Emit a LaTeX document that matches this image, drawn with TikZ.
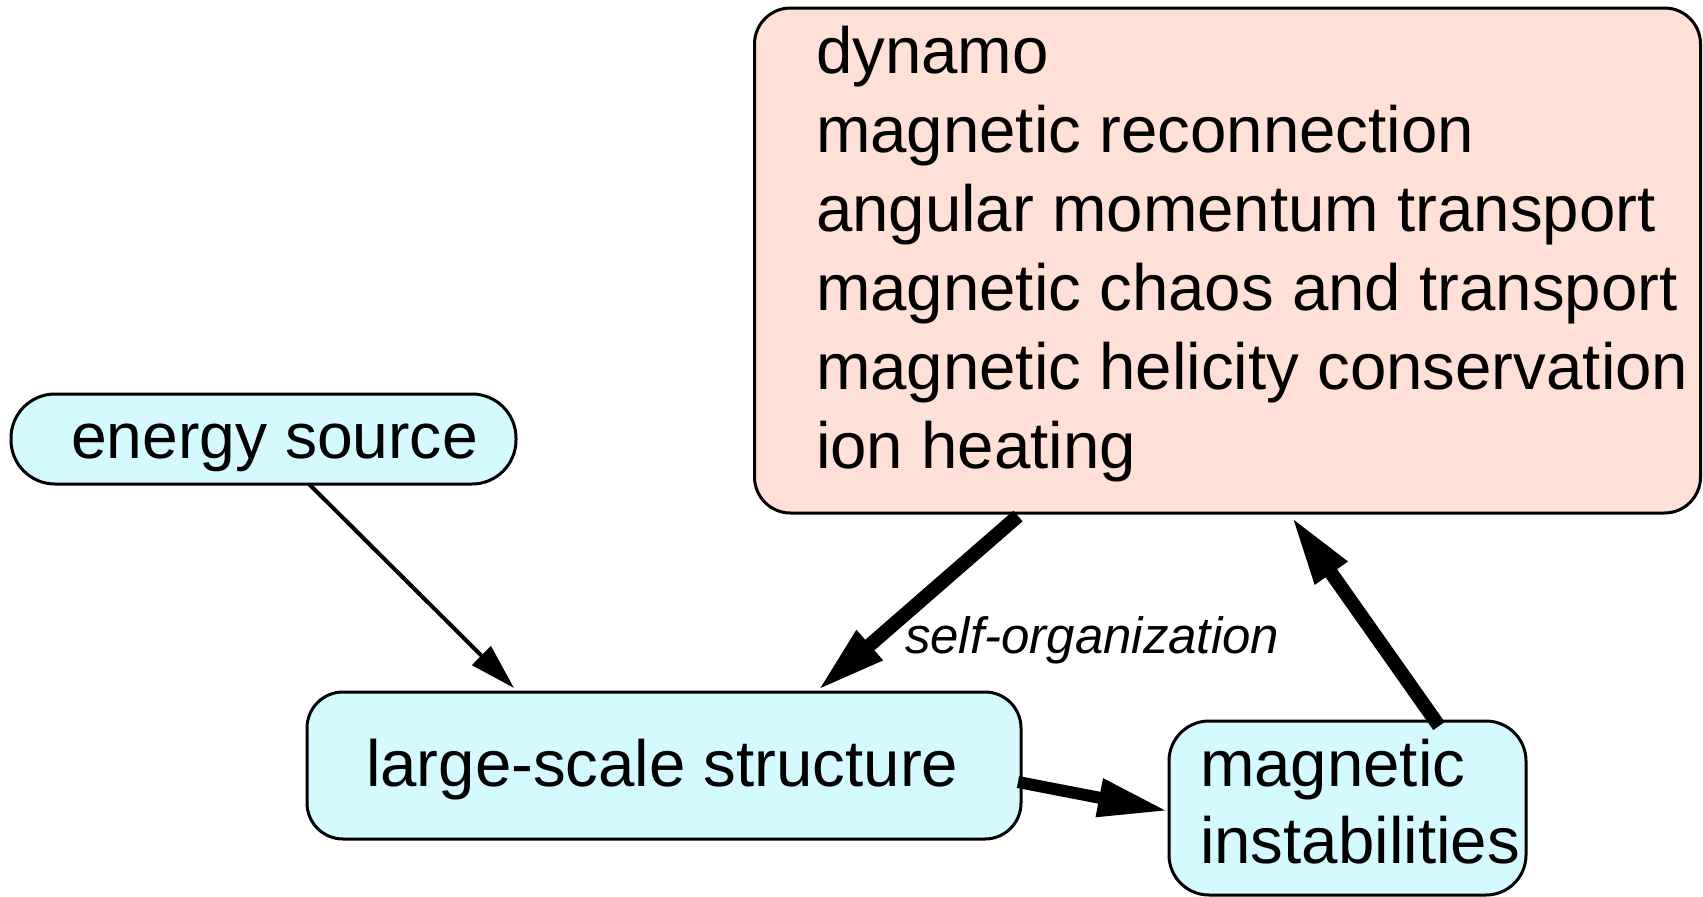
\documentclass[tikz,border=0pt]{standalone}
\usepackage{fontspec}
\setmainfont{Liberation Sans}
\usetikzlibrary{arrows.meta,calc}
\definecolor{boxcyan}{RGB}{212,250,255}
\definecolor{boxpeach}{RGB}{255,224,214}
\tikzset{
  box/.style={draw=black, line width=3pt, inner sep=0pt, outer sep=0pt},
  txt/.style={inner sep=0pt, outer sep=0pt, anchor=base west, font=\fontsize{65.4}{79}\selectfont},
  thinarrow/.style={line width=4pt, -{Triangle[length=46pt,width=26pt]}},
  thickarrow/.style={line width=14pt, line cap=butt, -{Triangle[length=70pt,width=36pt]}}
}
\begin{document}
\begin{tikzpicture}[x=1pt,y=-1pt]
\useasboundingbox (0,0) rectangle (1703,897);
% boxes
\node[box, fill=boxcyan, rounded corners=44pt, minimum width=505pt, minimum height=90pt] (es) at (263.5,439) {};
\node[box, fill=boxcyan, rounded corners=36pt, minimum width=714pt, minimum height=147pt] (ls) at (664,765.5) {};
\node[box, fill=boxcyan, rounded corners=40pt, minimum width=357pt, minimum height=174pt] (mi) at (1347.5,808) {};
\node[box, fill=boxpeach, rounded corners=36pt, minimum width=946pt, minimum height=505pt] (big) at (1227.5,260.5) {};
% texts
\node[txt, font=\fontsize{64.2}{76}\selectfont] (tes) at (71,458) {energy source};
\node[txt] (tls) at (366,786) {large-scale structure};
\node[txt] (tmi1) at (1200,786) {magnetic};
\node[txt] (tmi2) at (1200,863) {instabilities};
\node[txt] (b1) at (816,73) {dynamo};
\node[txt] (b2) at (816,152) {magnetic reconnection};
\node[txt] (b3) at (816,231) {angular momentum transport};
\node[txt] (b4) at (816,310) {magnetic chaos and transport};
\node[txt] (b5) at (816,389) {magnetic helicity conservation};
\node[txt] (b6) at (816,468) {ion heating};
\node[txt, font=\fontsize{51}{60}\selectfont\itshape] (so) at (905,653) {self-organization};
% connectors
\draw[thinarrow] ($(es.south)+(45.5,0)$) -- ($(ls.north)+(-150,-4)$);
\draw[thickarrow] ($(big.south)+(-209.5,3)$) -- ($(ls.north)+(153,-1)$);
\draw[thickarrow] ($(mi.north)+(91.5,5)$) -- ($(big.south)+(63.5,3)$);
\draw[thickarrow, line width=12pt] ($(ls.east)+(-3,16.5)$) -- ($(mi.west)+(-1,3)$);
\end{tikzpicture}
\end{document}
